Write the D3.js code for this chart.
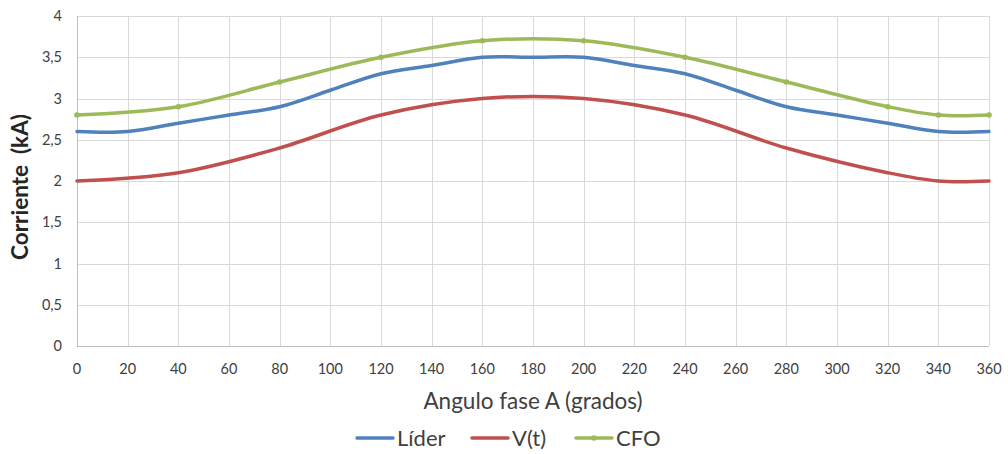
<!DOCTYPE html>
<html>
<head>
<meta charset="utf-8">
<script src="https://cdn.jsdelivr.net/npm/d3@7"></script>
<style>
  body { margin: 0; background: #fff; }
  text { font-family: Lato, "Open Sans", sans-serif; fill: #404040; }
</style>
</head>
<body>
<div id="chart"></div>
<script>
// datos
const xTicks = d3.range(0, 361, 20);
const yTicks = d3.range(0, 4.01, 0.5);

const liderAngles = [0, 20, 40, 60, 80, 100, 120, 140, 160, 180, 200, 220, 240, 260, 280, 300, 320, 340, 360];
const liderValues = [2.6, 2.6, 2.7, 2.8, 2.9, 3.1, 3.3, 3.4, 3.5, 3.5, 3.5, 3.4, 3.3, 3.1, 2.9, 2.8, 2.7, 2.6, 2.6];

const vtAngles = [0, 40, 80, 120, 160, 200, 240, 280, 320, 340, 360];
const vtValues = [2.0, 2.1, 2.4, 2.8, 3.0, 3.0, 2.8, 2.4, 2.1, 2.0, 2.0];

const cfoAngles = [0, 40, 80, 120, 160, 200, 240, 280, 320, 340, 360];
const cfoValues = [2.8, 2.9, 3.2, 3.5, 3.7, 3.7, 3.5, 3.2, 2.9, 2.8, 2.8];

const series = [
    { name: 'Líder', angles: liderAngles, values: liderValues, color: '#4f81bd', markers: false },
    { name: 'V(t)', angles: vtAngles, values: vtValues, color: '#c0504d', markers: false },
    { name: 'CFO', angles: cfoAngles, values: cfoValues, color: '#9bbb59', markers: true }
];

const width = 1008, height = 454;
const margin = { left: 77, right: 19, top: 16, bottom: 108 };

const svg = d3.select('#chart')
    .append('svg')
    .attr('width', width)
    .attr('height', height);

const x = d3.scaleLinear().domain([0, 360]).range([margin.left, width - margin.right]);
const y = d3.scaleLinear().domain([0, 4]).range([height - margin.bottom, margin.top]);

const fmt = d => String(d).replace('.', ',');

// rejilla
svg.append('g')
    .selectAll('line')
    .data(yTicks)
    .enter()
    .append('line')
    .attr('x1', x(0)).attr('x2', x(360))
    .attr('y1', d => Math.round(y(d)) + 0.5).attr('y2', d => Math.round(y(d)) + 0.5)
    .attr('stroke', '#d9d9d9');

svg.append('g')
    .selectAll('line')
    .data(xTicks)
    .enter()
    .append('line')
    .attr('x1', d => Math.round(x(d)) + 0.5).attr('x2', d => Math.round(x(d)) + 0.5)
    .attr('y1', y(0)).attr('y2', y(4))
    .attr('stroke', '#d9d9d9');

// ejes
svg.append('line')
    .attr('x1', Math.round(x(0)) + 0.5).attr('x2', Math.round(x(0)) + 0.5)
    .attr('y1', y(0)).attr('y2', y(4))
    .attr('stroke', '#bfbfbf');
svg.append('line')
    .attr('x1', x(0)).attr('x2', x(360))
    .attr('y1', Math.round(y(0)) + 0.5).attr('y2', Math.round(y(0)) + 0.5)
    .attr('stroke', '#bfbfbf');

// etiquetas de los ejes
svg.append('g')
    .selectAll('text')
    .data(yTicks)
    .enter()
    .append('text')
    .attr('x', 62)
    .attr('y', d => y(d) + 5)
    .attr('text-anchor', 'end')
    .attr('font-size', 14.5)
    .text(fmt);

svg.append('g')
    .selectAll('text')
    .data(xTicks)
    .enter()
    .append('text')
    .attr('x', d => x(d))
    .attr('y', 374)
    .attr('text-anchor', 'middle')
    .attr('font-size', 14.5)
    .text(d => d);

svg.append('text')
    .attr('x', 533)
    .attr('y', 409)
    .attr('text-anchor', 'middle')
    .attr('font-size', 22.5)
    .text('Angulo fase A (grados)');

svg.append('text')
    .attr('transform', 'translate(28, 187) rotate(-90)')
    .attr('text-anchor', 'middle')
    .attr('font-size', 22.5)
    .attr('font-weight', 'bold')
    .style('fill', '#262626')
    .attr('xml:space', 'preserve')
    .text('Corriente  (kA)');

// líneas suavizadas
const line = d3.line()
    .x(d => x(d[0]))
    .y(d => y(d[1]))
    .curve(d3.curveCatmullRom.alpha(0.5));

series.forEach(s => {
    const pts = s.angles.map((a, i) => [a, s.values[i]]);
    svg.append('path')
        .datum(pts)
        .attr('d', line)
        .attr('fill', 'none')
        .attr('stroke', s.color)
        .attr('stroke-width', 3.5)
        .attr('stroke-linecap', 'round');
    if (s.markers) {
        svg.append('g')
            .selectAll('circle')
            .data(pts)
            .enter()
            .append('circle')
            .attr('cx', d => x(d[0]))
            .attr('cy', d => y(d[1]))
            .attr('r', 2.8)
            .attr('fill', s.color);
    }
});

// leyenda
const legendX = [357, 472, 576];
series.forEach((s, i) => {
    const g = svg.append('g').attr('transform', `translate(${legendX[i]}, 438)`);
    g.append('line')
        .attr('x1', 0).attr('x2', 36)
        .attr('stroke', s.color)
        .attr('stroke-width', 3.5)
        .attr('stroke-linecap', 'round');
    if (s.markers) {
        g.append('circle').attr('cx', 18).attr('r', 2.8).attr('fill', s.color);
    }
    g.append('text')
        .attr('x', 40)
        .attr('y', 8)
        .attr('font-size', 22)
        .text(s.name);
});
</script>
</body>
</html>
